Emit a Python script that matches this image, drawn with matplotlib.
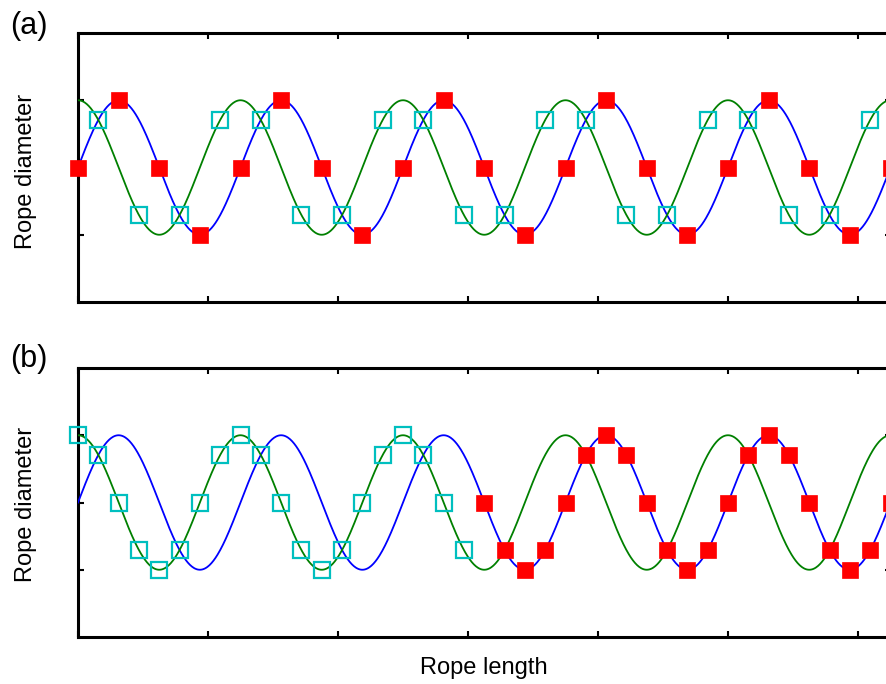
import numpy as np
import matplotlib
matplotlib.use("Agg")
import matplotlib.pyplot as plt

plt.rcParams['font.family'] = ['Liberation Sans', 'DejaVu Sans']

# Rope profile: two sinusoids a quarter period apart
period = 1.25
amplitude = 1.0
x_end = 6.25
x_ticks = [0, 1, 2, 3, 4, 5, 6]
y_ticks = [-1, 0, 1]

# (a) coarse sampling: quarter-period spacing
a_red_x = [0.3125 * k for k in range(21)]
a_red_y = [0, 1, 0, -1, 0, 1, 0, -1, 0, 1, 0, -1, 0, 1, 0, -1, 0, 1, 0, -1, 0]
a_cyan_x = [0.15625 + 0.3125 * k for k in range(20)]
a_cyan_y = [0.7071, -0.7071, -0.7071, 0.7071] * 5

# (b) fine sampling: eighth-period spacing
b_cyan_x = [0.15625 * k for k in range(20)]
b_cyan_y = [1, 0.7071, 0, -0.7071, -1, -0.7071, 0, 0.7071,
            1, 0.7071, 0, -0.7071, -1, -0.7071, 0, 0.7071,
            1, 0.7071, 0, -0.7071]
b_red_x = [0.15625 * k for k in range(20, 41)]
b_red_y = [0, -0.7071, -1, -0.7071, 0, 0.7071, 1, 0.7071,
           0, -0.7071, -1, -0.7071, 0, 0.7071, 1, 0.7071,
           0, -0.7071, -1, -0.7071, 0]

xs = np.linspace(0, x_end, 1200)
blue_wave = amplitude * np.sin(2 * np.pi * xs / period)
green_wave = amplitude * np.cos(2 * np.pi * xs / period)

fig = plt.figure(figsize=(8.87, 6.84), dpi=100)
W, H = 887, 684
left = 78 / W
width = 812.5 / W
ax_a = fig.add_axes([left, 1 - 302 / H, width, (302 - 33) / H])
ax_b = fig.add_axes([left, 1 - 637 / H, width, (637 - 368) / H])

red_style = dict(ls='none', marker='s', ms=12.2, mfc='#ff0000', mec='#ff0000',
                 mew=0.5, clip_on=False, zorder=5)
cyan_style = dict(ls='none', marker='s', ms=11.0, mfc='none', mec='#00bfbf',
                  mew=1.6, clip_on=False, zorder=5)

panels = [
    (ax_a, a_red_x, a_red_y, a_cyan_x, a_cyan_y),
    (ax_b, b_red_x, b_red_y, b_cyan_x, b_cyan_y),
]
for ax, rx, ry, cx, cy in panels:
    ax.plot(xs, blue_wave, color='#0000ff', lw=1.3, zorder=3)
    ax.plot(xs, green_wave, color='#008000', lw=1.3, zorder=3)
    ax.plot(cx, cy, **cyan_style)
    ax.plot(rx, ry, **red_style)
    ax.set_xlim(0, x_end)
    ax.set_ylim(-2, 2)
    ax.set_xticks(x_ticks)
    ax.set_yticks(y_ticks)
    ax.tick_params(direction='in', length=4.5, width=1.5, top=True, right=True,
                   labelbottom=False, labelleft=False)
    for sp in ax.spines.values():
        sp.set_linewidth(2.2)

fig.text(10 / W, 1 - 34 / H, '(a)', fontsize=22, ha='left', va='baseline')
fig.text(10 / W, 1 - 366.5 / H, '(b)', fontsize=22, ha='left', va='baseline')
fig.text(26 / W, 1 - 171 / H, 'Rope diameter', fontsize=17, rotation=90,
         ha='center', va='center')
fig.text(26 / W, 1 - 504 / H, 'Rope diameter', fontsize=17, rotation=90,
         ha='center', va='center')
fig.text(484 / W, 1 - 674 / H, 'Rope length', fontsize=17, ha='center',
         va='baseline')

fig.savefig('out.png', dpi=100)
